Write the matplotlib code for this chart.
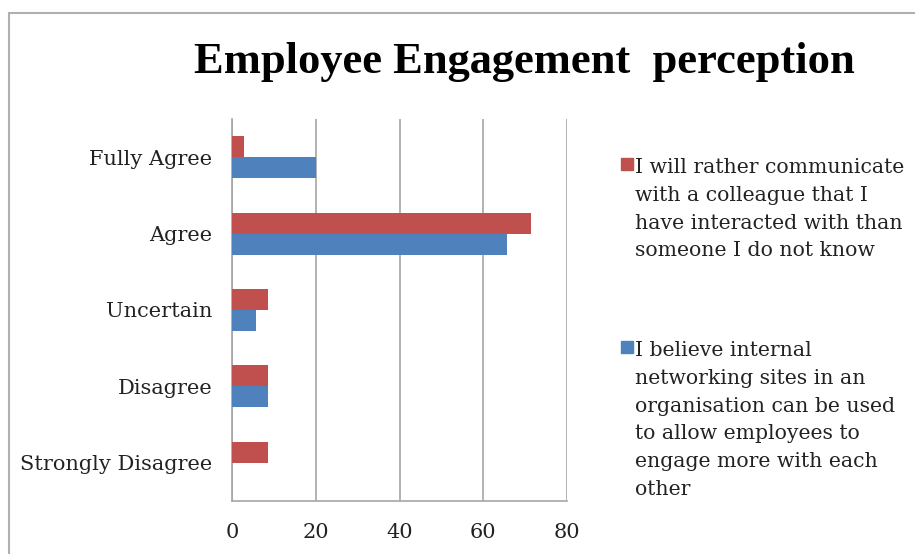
import matplotlib
matplotlib.use("Agg")
import matplotlib.pyplot as plt
from matplotlib.patches import Rectangle
import numpy as np

categories = ["Strongly Disagree", "Disagree", "Uncertain", "Agree", "Fully Agree"]
rather_communicate = [8.6, 8.6, 8.6, 71.4, 2.9]
internal_networking = [0.0, 8.6, 5.7, 65.7, 20.0]
x_ticks = [0, 20, 40, 60, 80]

title = "Employee Engagement  perception"
label_red = ["I will rather communicate", "with a colleague that I",
             "have interacted with than", "someone I do not know"]
label_blue = ["I believe internal", "networking sites in an",
              "organisation can be used", "to allow employees to",
              "engage more with each", "other"]

RED = "#C0504D"
BLUE = "#4F81BD"
GRID = "#A6A6A6"
TEXT = "#222222"
SERIF = ["DejaVu Serif"]

W, H = 915, 554
fig = plt.figure(figsize=(W / 100, H / 100), dpi=100)

# outer chart frame
fig.patches.append(Rectangle((9 / W, -0.05), 1.1, 1 - 13 / H + 0.05,
                             transform=fig.transFigure, fill=False,
                             edgecolor="#B0B0B0", linewidth=1.5))

ax = fig.add_axes([232 / W, 1 - 501 / H, (567 - 232) / W, (501 - 119) / H])

y = np.arange(len(categories))
h = 0.275
ax.barh(y - h / 2, internal_networking, height=h, color=BLUE, zorder=3)
ax.barh(y + h / 2, rather_communicate, height=h, color=RED, zorder=3)

ax.set_xlim(0, 80)
ax.set_ylim(-0.5, len(categories) - 0.5)
ax.set_xticks(x_ticks)
ax.set_xticklabels([str(t) for t in x_ticks], family=SERIF, fontsize=15,
                   color=TEXT)
ax.set_yticks(y)
ax.set_yticklabels(categories, family=SERIF, fontsize=15, color=TEXT)
ax.tick_params(axis="y", length=0, pad=14)
ax.tick_params(axis="x", length=0, pad=16)
ax.grid(axis="x", color=GRID, linewidth=1.2, zorder=0)
for s in ("top", "right"):
    ax.spines[s].set_visible(False)
for s in ("left", "bottom"):
    ax.spines[s].set_color(GRID)
    ax.spines[s].set_linewidth(1.2)

fig.text(524 / W, 1 - 73 / H, title, ha="center", va="baseline",
         family=["Liberation Serif"], fontweight="bold", fontsize=32)

# legend entries, drawn line by line
def legend_entry(baseline_px, color, lines):
    fig.patches.append(Rectangle((621 / W, 1 - (baseline_px - 3) / H), 12 / W, 12 / H,
                                 transform=fig.transFigure, color=color))
    for i, line in enumerate(lines):
        fig.text(635 / W, 1 - (baseline_px + i * 27.8) / H, line, ha="left",
                 va="baseline", family=SERIF, fontsize=14.7, color=TEXT)

legend_entry(173, RED, label_red)
legend_entry(356, BLUE, label_blue)

fig.savefig("out.png", dpi=100)
